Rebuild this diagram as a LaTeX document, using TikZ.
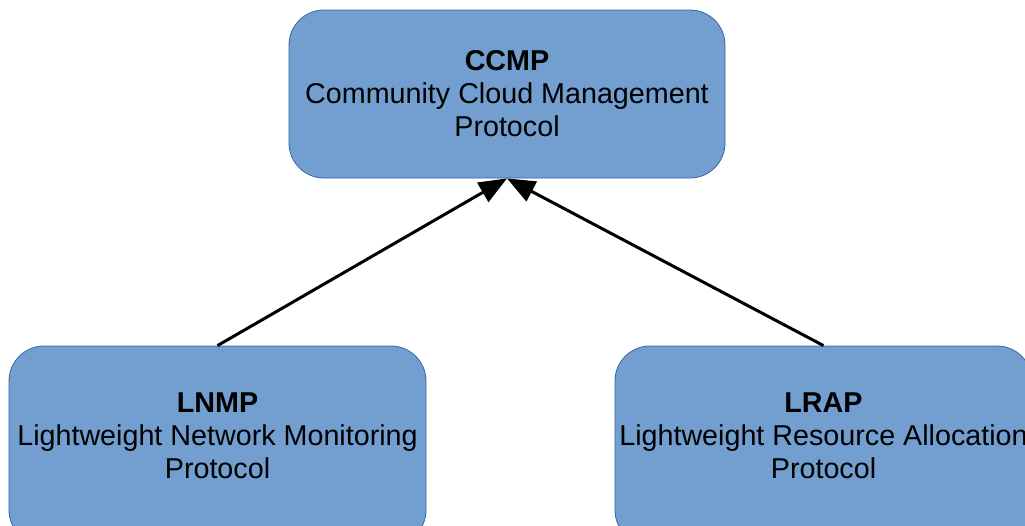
\documentclass[tikz,border=0pt]{standalone}
\usepackage{fontspec}
\setmainfont{Liberation Sans}
\usetikzlibrary{arrows.meta}
\definecolor{boxfill}{HTML}{729FCF}
\definecolor{boxline}{HTML}{3465A4}
\begin{document}
\begin{tikzpicture}[x=1pt,y=-1pt,
  proto/.style={draw=boxline, line width=0.8pt, fill=boxfill, rounded corners=35pt,
    align=center, inner sep=0pt, font=\fontsize{28.7}{33}\selectfont},
  arr/.style={line width=3pt, -{Triangle[length=28pt,width=22pt]}}]
\useasboundingbox (0,0) rectangle (1025,525);
\node[proto, minimum width=436pt, minimum height=168pt] (ccmp) at (507,94)
  {\textbf{CCMP}\\Community Cloud Management\\Protocol};
\node[proto, minimum width=417pt, minimum height=199pt, text depth=20pt] (lnmp) at (217.5,445.5)
  {\textbf{LNMP}\\Lightweight Network Monitoring\\Protocol};
\node[proto, minimum width=417pt, minimum height=199pt, text depth=20pt] (lrap) at (823.5,445.5)
  {\textbf{LRAP}\\Lightweight Resource Allocation\\Protocol};
\draw[arr] (lnmp.north) -- (ccmp.south);
\draw[arr] (lrap.north) -- (ccmp.south);
\end{tikzpicture}
\end{document}
